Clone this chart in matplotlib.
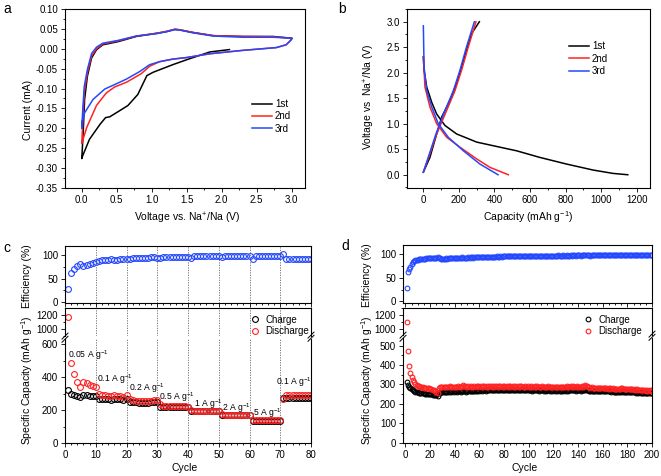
import numpy as np
import matplotlib
matplotlib.use('Agg')
from matplotlib import pyplot as plt
from matplotlib.ticker import MultipleLocator

plt.rcParams['font.family'] = ['Liberation Sans', 'DejaVu Sans']
plt.rcParams['mathtext.fontset'] = 'custom'
plt.rcParams['mathtext.rm'] = 'Liberation Sans'
plt.rcParams['font.size'] = 7
plt.rcParams['axes.linewidth'] = 0.8

### panel a: CV curves ###
cv1_v = [2.11, 1.83, 1.50, 1.30, 1.02, 0.93, 0.80, 0.66, 0.57, 0.40, 0.34, 0.26, 0.11, 0.01, 0.0,
         0.02, 0.04, 0.08, 0.14, 0.21, 0.30, 0.52, 0.78, 1.07, 1.21, 1.33, 1.40, 1.59, 1.88, 2.30, 2.73, 2.97, 3.0]
cv1_i = [-0.002, -0.008, -0.0275, -0.04, -0.059, -0.0675, -0.115, -0.1425, -0.1525, -0.171, -0.173, -0.19, -0.2275, -0.27, -0.276,
         -0.21, -0.1275, -0.069, -0.023, -0.0025, 0.01, 0.018, 0.031, 0.039, 0.043, 0.049, 0.0475, 0.041, 0.033, 0.031, 0.031, 0.027, 0.026]
cv2_v = [3.0, 2.99, 2.92, 2.78, 2.30, 1.83, 1.50, 1.30, 1.11, 0.97, 0.85, 0.64, 0.47, 0.35, 0.21, 0.07, 0.01, 0.0,
         0.015, 0.035, 0.08, 0.14, 0.21, 0.30, 0.52, 0.78, 1.07, 1.21, 1.33, 1.40, 1.59, 1.88, 2.30, 2.73, 2.97, 3.0]
cv2_i = [0.026, 0.022, 0.01, 0.003, -0.004, -0.0125, -0.022, -0.026, -0.0325, -0.044, -0.0625, -0.084, -0.096, -0.111, -0.1425, -0.198, -0.232, -0.238,
         -0.18, -0.11, -0.06, -0.018, 0.0, 0.012, 0.02, 0.032, 0.039, 0.044, 0.049, 0.048, 0.041, 0.033, 0.031, 0.030, 0.027, 0.026]
cv3_v = [3.0, 2.99, 2.92, 2.78, 2.30, 1.83, 1.50, 1.30, 1.11, 0.97, 0.83, 0.64, 0.47, 0.33, 0.16, 0.04, 0.01, 0.0,
         0.015, 0.035, 0.08, 0.14, 0.21, 0.30, 0.52, 0.78, 1.07, 1.21, 1.33, 1.40, 1.59, 1.88, 2.30, 2.73, 2.97, 3.0]
cv3_i = [0.026, 0.022, 0.01, 0.003, -0.004, -0.0125, -0.022, -0.026, -0.0325, -0.04, -0.057, -0.076, -0.09, -0.101, -0.1275, -0.161, -0.18, -0.20,
         -0.15, -0.095, -0.052, -0.012, 0.004, 0.014, 0.021, 0.032, 0.038, 0.043, 0.048, 0.047, 0.040, 0.032, 0.029, 0.029, 0.027, 0.026]

### panel b: charge/discharge profiles ###
dis1_c = [0, 4, 19, 47, 75, 122, 187, 300, 431, 524, 655, 805, 955, 1067, 1150]
dis1_v = [2.31, 2.05, 1.72, 1.42, 1.19, 0.965, 0.80, 0.64, 0.54, 0.47, 0.34, 0.21, 0.092, 0.026, 0.0]
chg1_c = [0, 37, 75, 103, 150, 187, 215, 243, 272, 315]
chg1_v = [0.05, 0.34, 0.80, 1.13, 1.46, 1.79, 2.11, 2.44, 2.77, 3.0]
dis2_c = [0, 9, 37, 75, 131, 206, 300, 375, 478]
dis2_v = [2.31, 1.72, 1.33, 1.0, 0.735, 0.54, 0.31, 0.144, 0.0]
chg2_c = [0, 37, 75, 131, 178, 215, 253, 296]
chg2_v = [0.05, 0.41, 0.80, 1.26, 1.65, 2.05, 2.51, 3.0]
dis3_c = [0, 4, 19, 47, 84, 140, 225, 318, 420]
dis3_v = [2.92, 2.11, 1.65, 1.33, 1.0, 0.735, 0.47, 0.21, 0.0]
chg3_c = [0, 34, 71, 122, 169, 206, 243, 287]
chg3_v = [0.05, 0.41, 0.80, 1.26, 1.65, 2.05, 2.51, 3.0]

### panel c: rate capability ###
c_cycle = np.arange(1, 81)
c_eff = [27, 62, 70, 77, 82, 78, 79, 81, 83, 85,
         87, 89, 90, 91, 92, 90, 91, 92, 93, 92,
         93, 94, 94, 94, 95, 95, 95, 96, 96, 94,
         95, 96, 96, 96, 96, 96, 96, 96, 96, 96,
         94, 98, 98, 98, 98, 98, 98, 98, 98, 98,
         97, 98, 98, 98, 98, 98, 98, 98, 98, 98,
         93, 98, 98, 99, 99, 99, 99, 99, 99, 99,
         102, 93, 93, 93, 93, 93, 93, 93, 93, 93]
c_charge = [320, 300, 292, 285, 278, 290, 290, 288, 288, 285,
            270, 266, 265, 265, 264, 266, 265, 265, 264, 265,
            250, 248, 247, 246, 246, 246, 246, 247, 249, 250,
            220, 218, 218, 217, 217, 217, 217, 217, 217, 217,
            193, 192, 192, 192, 192, 192, 192, 192, 192, 192,
            170, 168, 168, 168, 168, 168, 168, 168, 168, 168,
            133, 133, 133, 133, 133, 133, 133, 133, 133, 133,
            272, 275, 275, 275, 275, 275, 275, 275, 275, 275]
c_discharge = [1170, 485, 420, 370, 340, 370, 365, 355, 345, 340,
               300, 295, 290, 285, 285, 290, 285, 285, 280, 290,
               265, 262, 258, 255, 255, 255, 255, 258, 262, 262,
               235, 228, 225, 225, 225, 224, 224, 223, 223, 222,
               200, 195, 195, 195, 195, 195, 195, 195, 195, 195,
               175, 172, 172, 172, 172, 172, 172, 172, 172, 172,
               140, 137, 137, 137, 137, 137, 137, 137, 137, 137,
               265, 295, 295, 295, 295, 295, 295, 295, 295, 295]
rate_labels = ['0.05 A g$^{-1}$', '0.1 A g$^{-1}$', '0.2 A g$^{-1}$', '0.5 A g$^{-1}$',
               '1 A g$^{-1}$', '2 A g$^{-1}$', '5 A g$^{-1}$', '0.1 A g$^{-1}$']
rate_x = [1.0, 10.5, 20.8, 30.7, 41.8, 51.2, 61.2, 68.5]
rate_y = [534, 386, 334, 282, 236, 212, 180, 372]

### panel d: long cycling ###
d_cycle = np.arange(1, 201)
d_eff = [28, 62, 68, 74, 79, 83, 85, 87, 88, 89,
         90, 90, 91, 91, 91, 91, 92, 92, 92, 92,
         92, 92, 92, 92, 93, 95, 92, 92, 91, 91,
         91, 91, 92, 91, 92, 92, 92, 92, 92, 92,
         92, 92, 93, 93, 92, 94, 93, 92, 93, 93,
         94, 93, 94, 94, 93, 94, 94, 94, 94, 94,
         94, 95, 94, 95, 95, 94, 95, 95, 95, 95,
         95, 95, 95, 96, 95, 95, 96, 95, 96, 96,
         96, 96, 96, 96, 96, 96, 96, 96, 96, 96,
         96, 96, 96, 97, 96, 96, 97, 96, 97, 97,
         97, 97, 97, 97, 97, 97, 97, 96, 97, 97,
         97, 97, 97, 97, 97, 97, 97, 97, 97, 97,
         97, 97, 97, 98, 97, 97, 97, 98, 97, 97,
         98, 97, 97, 98, 97, 98, 98, 97, 98, 98,
         98, 97, 98, 98, 98, 98, 98, 98, 98, 97,
         98, 98, 98, 98, 98, 98, 98, 98, 98, 98,
         98, 98, 98, 98, 98, 98, 98, 98, 98, 98,
         98, 98, 98, 98, 99, 98, 98, 98, 98, 98,
         98, 98, 98, 98, 98, 98, 98, 98, 98, 98,
         98, 98, 98, 98, 98, 98, 98, 98, 98, 99]
d_charge = [312, 296, 287, 280, 274, 270, 266, 263, 261, 259,
            258, 257, 256, 255, 254, 253, 253, 252, 251, 250,
            249, 248, 247, 246, 244, 242, 255, 258, 260, 261,
            262, 262, 263, 262, 263, 264, 263, 264, 263, 264,
            264, 263, 265, 264, 263, 266, 268, 264, 263, 265,
            266, 265, 266, 265, 267, 268, 267, 268, 269, 268,
            269, 268, 270, 269, 268, 270, 269, 271, 270, 269,
            270, 269, 270, 271, 269, 270, 271, 270, 272, 270,
            270, 271, 269, 270, 271, 270, 271, 269, 270, 270,
            271, 269, 270, 271, 270, 269, 270, 269, 271, 270,
            269, 270, 268, 269, 270, 269, 270, 268, 269, 269,
            270, 268, 269, 268, 269, 270, 268, 269, 268, 269,
            268, 269, 268, 269, 267, 268, 269, 268, 269, 267,
            270, 268, 269, 270, 269, 271, 270, 268, 270, 269,
            269, 268, 270, 269, 270, 272, 270, 269, 268, 267,
            267, 266, 267, 266, 267, 266, 265, 266, 266, 265,
            266, 265, 265, 264, 265, 264, 263, 264, 263, 262,
            263, 262, 261, 262, 266, 263, 262, 262, 261, 261,
            260, 261, 259, 260, 259, 260, 258, 259, 258, 259,
            257, 258, 257, 258, 256, 257, 256, 258, 255, 257]
d_discharge = [1100, 470, 395, 358, 338, 322, 312, 304, 298, 294,
               291, 289, 287, 286, 284, 283, 282, 284, 280, 278,
               276, 273, 270, 267, 263, 258, 282, 285, 287, 286,
               288, 287, 289, 286, 288, 290, 287, 289, 286, 288,
               289, 287, 290, 288, 286, 292, 298, 290, 287, 289,
               291, 288, 290, 287, 289, 291, 288, 290, 292, 289,
               291, 289, 292, 290, 288, 291, 289, 292, 290, 288,
               291, 289, 290, 292, 288, 290, 291, 289, 293, 290,
               289, 291, 288, 290, 292, 289, 291, 288, 290, 289,
               291, 288, 290, 292, 289, 287, 290, 288, 291, 289,
               288, 290, 287, 289, 291, 288, 290, 287, 289, 288,
               290, 287, 289, 286, 288, 290, 287, 289, 286, 288,
               287, 289, 286, 288, 285, 287, 289, 286, 288, 285,
               290, 287, 289, 291, 288, 292, 289, 287, 290, 288,
               289, 287, 290, 288, 291, 295, 292, 289, 286, 284,
               285, 283, 284, 282, 284, 283, 281, 283, 282, 280,
               282, 280, 281, 279, 281, 280, 278, 280, 279, 277,
               279, 277, 276, 278, 284, 280, 277, 278, 276, 277,
               275, 277, 274, 276, 273, 275, 272, 274, 271, 273,
               270, 272, 269, 271, 268, 270, 267, 272, 266, 270]

BLUE = '#2448ff'
RED = '#ff2222'
W, H = 661, 476


def px(l, t, r, b):
    # pixel box -> figure rect
    return [l / W, 1 - b / H, (r - l) / W, (b - t) / H]


def style(ax):
    ax.tick_params(which='both', direction='out', width=0.6, labelsize=7, pad=2)
    ax.tick_params(which='major', length=3)
    ax.tick_params(which='minor', length=1.6)


def brk(x, y):
    # little // break marks on a spine (figure pixel coords)
    for dy in (-1.6, 1.6):
        fig.add_artist(plt.Line2D([(x - 3) / W, (x + 3) / W],
                                  [1 - (y + dy + 3) / H, 1 - (y + dy - 3) / H],
                                  color='k', lw=0.7))


fig = plt.figure(figsize=(6.61, 4.76), dpi=100)

# ---- a ----
ax = fig.add_axes(px(65, 9, 305, 188))
ax.plot(cv1_v, cv1_i, color='k', lw=1.1, label='1st')
ax.plot(cv2_v, cv2_i, color=RED, lw=1.1, label='2nd')
ax.plot(cv3_v, cv3_i, color=BLUE, lw=1.1, label='3rd')
ax.set_xlim(-0.24, 3.19)
ax.set_ylim(-0.35, 0.10)
ax.xaxis.set_major_locator(MultipleLocator(0.5))
ax.xaxis.set_minor_locator(MultipleLocator(0.25))
ax.yaxis.set_major_locator(MultipleLocator(0.05))
ax.yaxis.set_minor_locator(MultipleLocator(0.025))
ax.yaxis.set_major_formatter(plt.FuncFormatter(lambda v, p: '%.2f' % v))
style(ax)
ax.legend(loc='center left', bbox_to_anchor=(0.78, 0.40), frameon=False, fontsize=7,
          handlelength=2.0, handletextpad=0.35, labelspacing=0.25, borderpad=0, borderaxespad=0)
fig.text(187 / W, 1 - 218 / H, 'Voltage vs. Na$^{+}$/Na (V)', ha='center', va='center', fontsize=7.5)
fig.text(28 / W, 1 - 110 / H, 'Current (mA)', ha='center', va='center', rotation=90, fontsize=7.5)
fig.text(3 / W, 1 - 9 / H, 'a', fontsize=10, va='center')

# ---- b ----
ax = fig.add_axes(px(407, 9, 650, 188))
ax.plot(dis1_c, dis1_v, color='k', lw=1.1, label='1st')
ax.plot(chg1_c, chg1_v, color='k', lw=1.1)
ax.plot(dis2_c, dis2_v, color=RED, lw=1.1, label='2nd')
ax.plot(chg2_c, chg2_v, color=RED, lw=1.1)
ax.plot(dis3_c, dis3_v, color=BLUE, lw=1.1, label='3rd')
ax.plot(chg3_c, chg3_v, color=BLUE, lw=1.1)
ax.set_xlim(-92, 1275)
ax.set_ylim(-0.26, 3.25)
ax.xaxis.set_major_locator(MultipleLocator(200))
ax.xaxis.set_minor_locator(MultipleLocator(100))
ax.yaxis.set_major_locator(MultipleLocator(0.5))
ax.yaxis.set_minor_locator(MultipleLocator(0.25))
ax.yaxis.set_major_formatter(plt.FuncFormatter(lambda v, p: '%.1f' % v))
style(ax)
ax.legend(loc='center left', bbox_to_anchor=(0.667, 0.722), frameon=False, fontsize=7,
          handlelength=2.0, handletextpad=0.35, labelspacing=0.25, borderpad=0, borderaxespad=0)
fig.text(528 / W, 1 - 217 / H, 'Capacity (mAh g$^{-1}$)', ha='center', va='center', fontsize=7.5)
fig.text(369 / W, 1 - 97 / H, 'Voltage vs  Na$^{+}$/Na (V)', ha='center', va='center', rotation=90, fontsize=7.5)
fig.text(338 / W, 1 - 9 / H, 'b', fontsize=10, va='center')


# ---- c and d: efficiency + broken capacity axis ----
def cycling(l, r, tops, xlim, xmaj, xmin, cyc, eff, chg, dis, up_lim, low_lim, low_maj, low_min, ms):
    t_e, b_e, t_u, brk_y, b_l = tops
    ae = fig.add_axes(px(l, t_e, r, b_e))
    au = fig.add_axes(px(l, t_u, r, brk_y - 1.5))
    al = fig.add_axes(px(l, brk_y + 1.5, r, b_l))
    ae.plot(cyc, eff, 'o', mfc='none', mec=BLUE, ms=ms, mew=0.8)
    for a in (au, al):
        a.plot(cyc, chg, 'o', mfc='none', mec='k', ms=ms, mew=0.8, label='Charge')
        a.plot(cyc, dis, 'o', mfc='none', mec=RED, ms=ms, mew=0.8, label='Discharge')
    for a in (ae, au, al):
        a.set_xlim(*xlim)
        a.xaxis.set_major_locator(MultipleLocator(xmaj))
        a.xaxis.set_minor_locator(MultipleLocator(xmin))
        style(a)
    ae.set_ylim(-3, 120)
    ae.yaxis.set_major_locator(MultipleLocator(50))
    ae.yaxis.set_minor_locator(MultipleLocator(25))
    ae.tick_params(axis='x', labelbottom=False)
    au.set_ylim(*up_lim)
    au.yaxis.set_major_locator(MultipleLocator(200))
    au.yaxis.set_minor_locator(MultipleLocator(100))
    au.tick_params(axis='x', which='both', bottom=False, labelbottom=False)
    au.spines['bottom'].set_visible(False)
    al.set_ylim(*low_lim)
    al.yaxis.set_major_locator(MultipleLocator(low_maj))
    al.yaxis.set_minor_locator(MultipleLocator(low_min))
    al.spines['top'].set_visible(False)
    brk(l, brk_y)
    brk(r, brk_y - 1)
    return ae, au, al


ae, au, al = cycling(65, 311, (246, 303.3, 308, 337.7, 443), (0, 80), 10, 2,
                     c_cycle, c_eff, c_charge, c_discharge, (900, 1298), (0, 632), 200, 100, 4.2)
for a, y0, y1 in ((ae, -3, 120), (au, 900, 1298), (al, 0, 632)):
    for xv in range(10, 80, 10):
        a.plot([xv, xv], [y0, y1], color='#666666', lw=0.6, ls=(0, (1.5, 1.5)))
for s, xv, yv in zip(rate_labels, rate_x, rate_y):
    al.text(xv, yv, s, fontsize=6.2, va='center', ha='left')
fig.legend(*au.get_legend_handles_labels(), loc='center left', bbox_to_anchor=(250 / W, 1 - 325.5 / H),
           frameon=False, fontsize=7, handlelength=1.0, handletextpad=0.6, labelspacing=0.15,
           borderpad=0, borderaxespad=0)
fig.text(185 / W, 1 - 468 / H, 'Cycle', ha='center', va='center', fontsize=7.5)
fig.text(27 / W, 1 - 276 / H, 'Efficiency (%)', ha='center', va='center', rotation=90, fontsize=7.5)
fig.text(27 / W, 1 - 380 / H, 'Specific Capacity (mAh g$^{-1}$)', ha='center', va='center', rotation=90, fontsize=7.5)
fig.text(3 / W, 1 - 248 / H, 'c', fontsize=10, va='center')

ae, au, al = cycling(403, 652, (245, 302.7, 307.7, 336.7, 442.7), (-2, 200), 20, 5,
                     d_cycle, d_eff, d_charge, d_discharge, (910, 1302), (0, 538), 100, 50, 3.4)
fig.legend(*au.get_legend_handles_labels(), loc='center left', bbox_to_anchor=(583 / W, 1 - 325.5 / H),
           frameon=False, fontsize=7, handlelength=1.0, handletextpad=0.6, labelspacing=0.15,
           borderpad=0, borderaxespad=0)
fig.text(525 / W, 1 - 468 / H, 'Cycle', ha='center', va='center', fontsize=7.5)
fig.text(367 / W, 1 - 275 / H, 'Efficiency (%)', ha='center', va='center', rotation=90, fontsize=7.5)
fig.text(367 / W, 1 - 380 / H, 'Specific Capacity (mAh g$^{-1}$)', ha='center', va='center', rotation=90, fontsize=7.5)
fig.text(341 / W, 1 - 246 / H, 'd', fontsize=10, va='center')

plt.savefig('out.png', dpi=100)
